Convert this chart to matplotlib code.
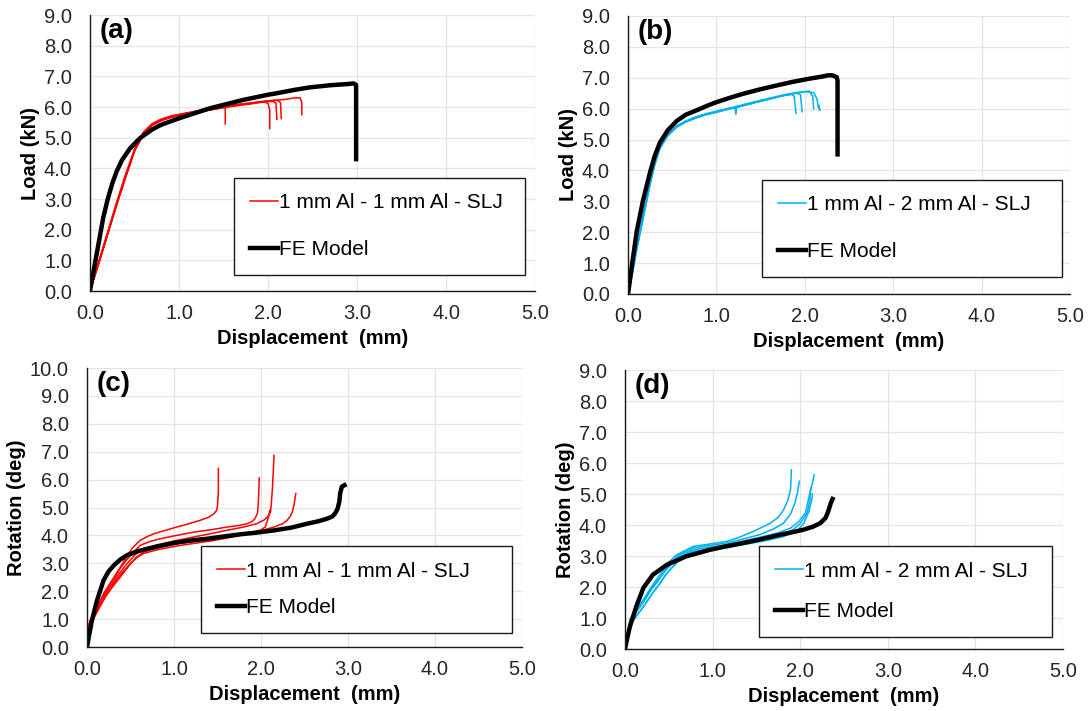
import matplotlib
matplotlib.use("Agg")
import matplotlib.pyplot as plt

plt.rcParams['font.family'] = ['Liberation Sans', 'DejaVu Sans']

RED = '#ff0000'
BLUE = '#00b0f0'

# ---------------- (a) load vs displacement, 1 mm Al - 1 mm Al ----------------
a_fe_x = [0, 0.05, 0.1, 0.15, 0.2, 0.25, 0.3, 0.36, 0.45, 0.56, 0.7, 0.8, 1.0, 1.2, 1.35,
          1.5, 1.72, 2.0, 2.1, 2.3, 2.47, 2.7, 2.9, 2.96, 2.99, 2.99]
a_fe_y = [0, 0.8, 1.6, 2.4, 3.0, 3.5, 3.9, 4.27, 4.65, 4.98, 5.27, 5.42, 5.63, 5.82, 5.96,
          6.07, 6.23, 6.4, 6.45, 6.56, 6.64, 6.71, 6.75, 6.77, 6.72, 4.3]

a_exp_x = [
    [0, 0.1, 0.2, 0.3, 0.4, 0.5, 0.6, 0.7, 0.8, 0.9, 1.0, 1.2, 1.4, 1.5, 1.52, 1.52],
    [0, 0.1, 0.2, 0.3, 0.4, 0.5, 0.6, 0.7, 0.8, 0.9, 1.0, 1.2, 1.4, 1.6, 1.8, 1.95, 2.0, 2.02, 2.02],
    [0, 0.1, 0.2, 0.3, 0.4, 0.5, 0.6, 0.7, 0.8, 0.9, 1.0, 1.2, 1.4, 1.6, 1.8, 2.0, 2.06, 2.09, 2.1],
    [0, 0.1, 0.2, 0.3, 0.4, 0.5, 0.6, 0.7, 0.8, 0.9, 1.0, 1.2, 1.4, 1.6, 1.8, 2.0, 2.1, 2.14, 2.15],
    [0, 0.1, 0.2, 0.3, 0.4, 0.5, 0.6, 0.7, 0.8, 0.9, 1.0, 1.2, 1.4, 1.6, 1.8, 2.0, 2.2, 2.3, 2.36, 2.38, 2.38],
]
a_exp_y = [
    [0, 0.9, 1.85, 2.8, 3.7, 4.55, 5.1, 5.4, 5.55, 5.65, 5.72, 5.83, 5.93, 5.98, 5.98, 5.45],
    [0, 0.95, 1.9, 2.85, 3.75, 4.6, 5.15, 5.42, 5.57, 5.66, 5.73, 5.84, 5.93, 6.02, 6.1, 6.17, 6.12, 5.9, 5.3],
    [0, 0.92, 1.88, 2.82, 3.72, 4.57, 5.12, 5.44, 5.6, 5.68, 5.75, 5.86, 5.95, 6.04, 6.11, 6.18, 6.18, 6.12, 5.6],
    [0, 0.97, 1.93, 2.9, 3.8, 4.62, 5.18, 5.46, 5.6, 5.7, 5.76, 5.87, 5.97, 6.06, 6.13, 6.2, 6.22, 6.15, 5.62],
    [0, 0.93, 1.87, 2.83, 3.73, 4.58, 5.14, 5.43, 5.58, 5.67, 5.74, 5.86, 5.96, 6.05, 6.13, 6.2, 6.25, 6.3, 6.3, 6.15, 5.75],
]

# ---------------- (b) load vs displacement, 1 mm Al - 2 mm Al ----------------
b_fe_x = [0, 0.05, 0.1, 0.17, 0.25, 0.3, 0.36, 0.45, 0.55, 0.65, 0.77, 0.9, 1.0, 1.15, 1.3,
          1.5, 1.68, 1.85, 2.05, 2.2, 2.26, 2.31, 2.36, 2.37, 2.37]
b_fe_y = [0, 1.05, 2.05, 3.03, 3.95, 4.45, 4.9, 5.3, 5.6, 5.8, 5.94, 6.1, 6.21, 6.35, 6.48,
          6.63, 6.75, 6.86, 6.97, 7.04, 7.08, 7.08, 7.02, 6.91, 4.52]

b_exp_x = [
    [0, 0.05, 0.1, 0.15, 0.2, 0.25, 0.3, 0.36, 0.45, 0.55, 0.65, 0.77, 0.9, 1.0, 1.1, 1.22,
     1.4, 1.6, 1.75, 1.85, 1.88, 1.9],
    [0, 0.05, 0.1, 0.15, 0.2, 0.25, 0.3, 0.36, 0.45, 0.55, 0.65, 0.77, 0.9, 1.0, 1.1, 1.21,
     1.22, 1.23, 1.4, 1.6, 1.75, 1.9, 1.95, 1.97],
    [0, 0.05, 0.1, 0.15, 0.2, 0.25, 0.3, 0.36, 0.45, 0.55, 0.65, 0.77, 0.9, 1.0, 1.1, 1.22,
     1.4, 1.6, 1.75, 1.9, 2.05, 2.09, 2.1],
    [0, 0.05, 0.1, 0.15, 0.2, 0.25, 0.3, 0.36, 0.45, 0.55, 0.65, 0.77, 0.9, 1.0, 1.1, 1.22,
     1.4, 1.6, 1.75, 1.9, 2.0, 2.1, 2.14, 2.15, 2.17, 2.16],
]
b_exp_y = [
    [0, 0.7, 1.5, 2.2, 2.9, 3.6, 4.2, 4.75, 5.15, 5.42, 5.58, 5.72, 5.83, 5.9, 5.97, 6.05,
     6.18, 6.32, 6.42, 6.46, 6.4, 5.85],
    [0, 0.68, 1.45, 2.15, 2.85, 3.55, 4.15, 4.7, 5.12, 5.4, 5.56, 5.7, 5.82, 5.88, 5.96, 6.04,
     5.82, 6.04, 6.17, 6.31, 6.42, 6.5, 6.46, 5.9],
    [0, 0.72, 1.52, 2.25, 2.95, 3.62, 4.22, 4.78, 5.18, 5.44, 5.6, 5.74, 5.85, 5.92, 5.99, 6.07,
     6.2, 6.34, 6.44, 6.52, 6.57, 6.4, 6.0],
    [0, 0.69, 1.48, 2.18, 2.88, 3.58, 4.18, 4.72, 5.14, 5.41, 5.57, 5.71, 5.82, 5.89, 5.96, 6.04,
     6.17, 6.31, 6.42, 6.5, 6.55, 6.52, 6.3, 6.05, 5.95, 6.1],
]

# ---------------- (c) rotation vs displacement, 1 mm Al - 1 mm Al ----------------
c_fe_x = [0, 0.02, 0.057, 0.115, 0.19, 0.25, 0.31, 0.38, 0.46, 0.57, 0.69, 0.85, 1.0, 1.2,
          1.38, 1.57, 1.76, 1.95, 2.15, 2.35, 2.53, 2.65, 2.76, 2.82, 2.85, 2.88, 2.9, 2.91,
          2.93, 2.96]
c_fe_y = [0, 0.35, 0.96, 1.67, 2.39, 2.72, 2.93, 3.13, 3.29, 3.42, 3.52, 3.63, 3.73, 3.82,
          3.88, 3.96, 4.04, 4.1, 4.18, 4.28, 4.42, 4.5, 4.6, 4.68, 4.78, 4.95, 5.2, 5.5,
          5.75, 5.8]

c_exp_x = [
    [0, 0.01, 0.03, 0.06, 0.1, 0.15, 0.19, 0.25, 0.34, 0.4, 0.46, 0.52, 0.61, 0.7, 0.77, 0.9,
     1.03, 1.15, 1.3, 1.4, 1.46, 1.49, 1.5, 1.51, 1.51],
    [0, 0.01, 0.02, 0.05, 0.1, 0.15, 0.2, 0.27, 0.35, 0.45, 0.52, 0.61, 0.72, 0.84, 1.03, 1.23,
     1.42, 1.61, 1.75, 1.84, 1.9, 1.93, 1.96, 1.97, 1.98],
    [0, 0.02, 0.04, 0.08, 0.13, 0.19, 0.26, 0.35, 0.45, 0.55, 0.65, 0.8, 1.03, 1.22, 1.42, 1.6,
     1.8, 1.95, 2.03, 2.08, 2.11, 2.12, 2.13, 2.14, 2.15],
    [0, 0.01, 0.03, 0.07, 0.12, 0.2, 0.28, 0.38, 0.48, 0.56, 0.65, 0.8, 1.03, 1.22, 1.42, 1.6,
     1.8, 2.0, 2.15, 2.25, 2.3, 2.34, 2.36, 2.38, 2.4],
    [0, 0.02, 0.05, 0.09, 0.15, 0.22, 0.3, 0.4, 0.5, 0.58, 0.65, 0.8, 1.03, 1.22, 1.42, 1.6,
     1.8, 1.9, 2.0, 2.05, 2.07, 2.09, 2.1],
]
c_exp_y = [
    [0, 0.6, 0.9, 1.1, 1.4, 1.65, 1.9, 2.2, 2.6, 2.95, 3.25, 3.55, 3.82, 3.97, 4.06, 4.18,
     4.3, 4.4, 4.54, 4.65, 4.78, 4.9, 5.05, 5.6, 6.4],
    [0, 0.45, 0.8, 1.0, 1.3, 1.6, 1.95, 2.3, 2.7, 3.1, 3.35, 3.64, 3.78, 3.88, 4.0, 4.12,
     4.2, 4.3, 4.36, 4.42, 4.5, 4.6, 4.8, 5.2, 6.06],
    [0, 0.7, 0.95, 1.2, 1.5, 1.8, 2.15, 2.55, 2.95, 3.3, 3.52, 3.66, 3.82, 3.94, 4.06, 4.18,
     4.3, 4.42, 4.54, 4.68, 4.84, 5.2, 5.62, 6.2, 6.87],
    [0, 0.5, 0.75, 1.05, 1.35, 1.75, 2.1, 2.5, 2.9, 3.2, 3.4, 3.55, 3.7, 3.79, 3.88, 3.97,
     4.06, 4.17, 4.3, 4.42, 4.54, 4.7, 4.85, 5.1, 5.5],
    [0, 0.55, 0.85, 1.1, 1.45, 1.85, 2.25, 2.65, 3.0, 3.22, 3.35, 3.48, 3.62, 3.71, 3.8, 3.9,
     4.02, 4.1, 4.2, 4.3, 4.5, 4.7, 4.9],
]

# ---------------- (d) rotation vs displacement, 1 mm Al - 2 mm Al ----------------
d_fe_x = [0, 0.03, 0.057, 0.13, 0.21, 0.32, 0.48, 0.7, 0.97, 1.15, 1.35, 1.55, 1.73, 1.9,
          2.04, 2.15, 2.23, 2.29, 2.32, 2.35, 2.37]
d_fe_y = [0, 0.4, 0.73, 1.38, 1.97, 2.4, 2.72, 2.99, 3.2, 3.31, 3.42, 3.54, 3.66, 3.76,
          3.85, 3.95, 4.06, 4.23, 4.44, 4.71, 4.84]

d_exp_x = [
    [0, 0.03, 0.057, 0.12, 0.21, 0.3, 0.36, 0.45, 0.51, 0.59, 0.78, 1.0, 1.16, 1.3, 1.47,
     1.66, 1.75, 1.81, 1.86, 1.89, 1.9],
    [0, 0.03, 0.06, 0.13, 0.22, 0.31, 0.38, 0.46, 0.53, 0.6, 0.78, 1.16, 1.35, 1.54, 1.7,
     1.81, 1.89, 1.94, 1.97, 1.99],
    [0, 0.02, 0.05, 0.12, 0.2, 0.29, 0.37, 0.46, 0.54, 0.62, 0.78, 1.16, 1.58, 1.75, 1.89,
     1.98, 2.06, 2.11, 2.14, 2.16],
    [0, 0.03, 0.06, 0.14, 0.23, 0.32, 0.4, 0.48, 0.56, 0.64, 0.78, 1.16, 1.58, 1.8, 1.92,
     2.0, 2.08, 2.11, 2.12],
    [0, 0.02, 0.05, 0.13, 0.22, 0.31, 0.39, 0.47, 0.55, 0.63, 0.78, 1.16, 1.58, 1.8, 1.96,
     2.04, 2.1, 2.13, 2.14],
]
d_exp_y = [
    [0, 0.5, 0.95, 1.25, 1.59, 2.0, 2.24, 2.6, 2.83, 3.04, 3.31, 3.4, 3.47, 3.6, 3.8,
     4.06, 4.25, 4.49, 4.8, 5.14, 5.78],
    [0, 0.45, 0.85, 1.2, 1.55, 1.95, 2.2, 2.55, 2.78, 3.0, 3.26, 3.42, 3.55, 3.69, 3.88,
     4.06, 4.35, 4.71, 5.05, 5.41],
    [0, 0.4, 0.8, 1.15, 1.5, 1.9, 2.2, 2.52, 2.76, 2.98, 3.2, 3.37, 3.63, 3.75, 3.9,
     4.1, 4.39, 5.03, 5.35, 5.62],
    [0, 0.42, 0.82, 1.1, 1.45, 1.82, 2.12, 2.45, 2.7, 2.94, 3.15, 3.3, 3.55, 3.72, 3.85,
     4.05, 4.39, 4.8, 5.19],
    [0, 0.38, 0.75, 1.05, 1.4, 1.78, 2.08, 2.42, 2.66, 2.9, 3.12, 3.27, 3.48, 3.62, 3.8,
     4.05, 4.44, 4.8, 5.0],
]

x_ticks = [0, 1, 2, 3, 4, 5]


def style_axes(ax, ymax, ylabel, tag):
    ax.set_xlim(0, 5)
    ax.set_ylim(0, ymax)
    ax.set_xticks(x_ticks)
    ax.set_yticks(range(0, int(ymax) + 1))
    ax.xaxis.set_major_formatter(matplotlib.ticker.FormatStrFormatter('%.1f'))
    ax.yaxis.set_major_formatter(matplotlib.ticker.FormatStrFormatter('%.1f'))
    ax.grid(True, color='#e4e4e4', lw=0.9)
    ax.set_axisbelow(True)
    for s in ['top', 'right']:
        ax.spines[s].set_visible(False)
    for s in ['left', 'bottom']:
        ax.spines[s].set_color('#1a1a1a')
        ax.spines[s].set_linewidth(1.0)
    ax.tick_params(length=0, labelsize=14.5, labelcolor='#262626')
    ax.tick_params(axis='x', pad=9.5)
    ax.tick_params(axis='y', pad=13)
    ax.set_xlabel('Displacement  (mm)', fontsize=14.5, fontweight='bold', labelpad=4)
    ax.set_ylabel(ylabel, fontsize=14.5, fontweight='bold', labelpad=3)
    ax.text(0.022, 0.99, tag, transform=ax.transAxes, ha='left', va='top',
            fontsize=20, fontweight='bold')


def draw(ax, exp_x, exp_y, fe_x, fe_y, color, label):
    for i, (xs, ys) in enumerate(zip(exp_x, exp_y)):
        ax.plot(xs, ys, color=color, lw=1.1, label=label if i == 0 else None)
    ax.plot(fe_x, fe_y, color='black', lw=3.2, label='FE Model',
            solid_joinstyle='round')


def legend(ax, box, spacing):
    ax.legend(loc='lower left', bbox_to_anchor=box, mode='expand', borderaxespad=0,
              fontsize=15, frameon=True, fancybox=False, edgecolor='#1a1a1a',
              framealpha=1, handlelength=1.35, handletextpad=0.05,
              labelspacing=spacing, borderpad=0.75).get_frame().set_linewidth(1.0)


fig = plt.figure(figsize=(10.89, 7.11), dpi=100)

ax_a = fig.add_axes([0.0826, 0.5907, 0.4087, 0.3882])
draw(ax_a, a_exp_x, a_exp_y, a_fe_x, a_fe_y, RED, '1 mm Al - 1 mm Al - SLJ')
style_axes(ax_a, 9, 'Load (kN)', '(a)')
legend(ax_a, (0.324, 0.058, 0.654, 0.3), 1.35)

ax_b = fig.add_axes([0.5767, 0.5865, 0.4059, 0.3910])
draw(ax_b, b_exp_x, b_exp_y, b_fe_x, b_fe_y, BLUE, '1 mm Al - 2 mm Al - SLJ')
style_axes(ax_b, 9, 'Load (kN)', '(b)')
legend(ax_b, (0.303, 0.061, 0.679, 0.3), 1.35)

ax_c = fig.add_axes([0.0799, 0.0900, 0.3994, 0.3924])
draw(ax_c, c_exp_x, c_exp_y, c_fe_x, c_fe_y, RED, '1 mm Al - 1 mm Al - SLJ')
style_axes(ax_c, 10, 'Rotation (deg)', '(c)')
legend(ax_c, (0.262, 0.050, 0.715, 0.3), 0.85)

ax_d = fig.add_axes([0.5739, 0.0872, 0.4022, 0.3924])
draw(ax_d, d_exp_x, d_exp_y, d_fe_x, d_fe_y, BLUE, '1 mm Al - 2 mm Al - SLJ')
style_axes(ax_d, 9, 'Rotation (deg)', '(d)')
legend(ax_d, (0.306, 0.043, 0.669, 0.3), 1.05)

fig.savefig('out.png', dpi=100, facecolor='white')
